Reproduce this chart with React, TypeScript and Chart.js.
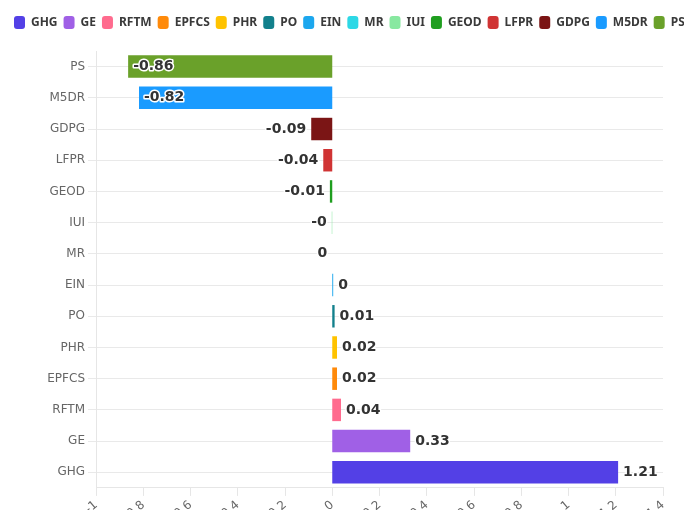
import React, { useEffect, useRef } from "react";
import { Chart, registerables } from "chart.js";

Chart.register(...registerables);

const categories = ["GHG", "GE", "RFTM", "EPFCS", "PHR", "PO", "EIN", "MR", "IUI", "GEOD", "LFPR", "GDPG", "M5DR", "PS"];
const values = [1.21, 0.33, 0.037, 0.02, 0.02, 0.01, 0.004, 0, -0.002, -0.01, -0.038, -0.089, -0.818, -0.864];
const colors = ["#5340E6", "#A060E6", "#FF6B8E", "#FF8A0A", "#FFC300", "#12808C", "#1CA7EE", "#2DD8E6", "#88E8A0", "#1F9E1F", "#D03434", "#7B1515", "#1A9BFF", "#6AA12A"];
const xMin = -1;
const xMax = 1.4;
const xStep = 0.2;

function fmt(v: number): string {
  const r = Math.round(Math.abs(v) * 100) / 100;
  return (v < 0 ? "-" : "") + String(r);
}

const legendMargin = {
  id: "legendMargin",
  beforeInit(chart: any) {
    const legend = chart.legend;
    if (!legend) return;
    const orig = legend.fit;
    legend.fit = function () {
      orig.call(this);
      this.height += 12;
    };
  },
};

const valueLabels = {
  id: "valueLabels",
  afterDatasetsDraw(chart: any) {
    const ctx = chart.ctx;
    const area = chart.chartArea;
    ctx.save();
    ctx.font = "bold 14px 'DejaVu Sans'";
    ctx.textBaseline = "middle";
    ctx.lineJoin = "round";
    chart.data.datasets.forEach((ds: any, i: number) => {
      const meta = chart.getDatasetMeta(i);
      const el = meta.data[i];
      if (!el) return;
      const v = ds.data[i] as number;
      const text = fmt(v);
      const w = ctx.measureText(text).width;
      const { x, y, base } = el.getProps(["x", "y", "base"], true);
      let tx: number;
      let align: CanvasTextAlign;
      if (v > 0) {
        tx = x + 5;
        align = "left";
      } else {
        tx = x - 5;
        align = "right";
        if (tx - w < area.left + 20) {
          tx = Math.min(x, base) + 5;
          align = "left";
        }
      }
      ctx.textAlign = align;
      ctx.strokeStyle = "#ffffff";
      ctx.lineWidth = 3;
      ctx.strokeText(text, tx, y);
      ctx.fillStyle = "#333333";
      ctx.fillText(text, tx, y);
    });
    ctx.restore();
  },
};

export default function App() {
  const ref = useRef<HTMLCanvasElement | null>(null);
  useEffect(() => {
    document.body.style.overflow = "hidden";
    document.documentElement.style.overflow = "hidden";
    if (!ref.current) return;
    const datasets = categories.map((c, i) => ({
      label: c,
      data: categories.map((_, j) => (j === i ? values[i] : null)),
      backgroundColor: colors[i],
      borderColor: colors[i],
      borderWidth: 0,
    }));
    const chart = new Chart(ref.current, {
      type: "bar",
      data: { labels: categories, datasets },
      options: {
        indexAxis: "y",
        animation: false,
        responsive: true,
        maintainAspectRatio: false,
        layout: { padding: { top: 2, left: 0, right: 0, bottom: 0 } },
        plugins: {
          legend: {
            position: "top",
            align: "start",
            labels: {
              boxWidth: 11,
              boxHeight: 13,
              useBorderRadius: true,
              borderRadius: 3,
              padding: 6,
              color: "#3a3a3a",
              font: { family: "'Noto Sans'", size: 12, weight: "bold" },
            },
          },
          tooltip: { enabled: false },
        },
        scales: {
          x: {
            stacked: true,
            min: xMin,
            max: xMax,
            ticks: {
              stepSize: xStep,
              minRotation: 40,
              maxRotation: 40,
              padding: 2,
              color: "#666",
              font: { family: "'DejaVu Sans'", size: 12 },
              callback: (v: any) => String(Math.round(Number(v) * 10) / 10),
            },
            grid: { drawOnChartArea: false, color: "#e6e6e6", tickLength: 8 },
            border: { color: "#e6e6e6" },
            afterFit: (scale: any) => {
              scale.paddingRight = 45;
            },
          },
          y: {
            stacked: true,
            reverse: true,
            ticks: {
              color: "#666",
              font: { family: "'DejaVu Sans'", size: 12 },
            },
            grid: { offset: false, color: "#e9e9e9", tickLength: 8 },
            border: { color: "#e6e6e6" },
            afterFit: (scale: any) => {
              scale.width = 88;
            },
          },
        },
      },
      plugins: [legendMargin, valueLabels],
    } as any);
    return () => chart.destroy();
  }, []);
  return (
    <div style={{ position: "relative", width: 700, height: 518 }}>
      <canvas ref={ref} />
    </div>
  );
}
